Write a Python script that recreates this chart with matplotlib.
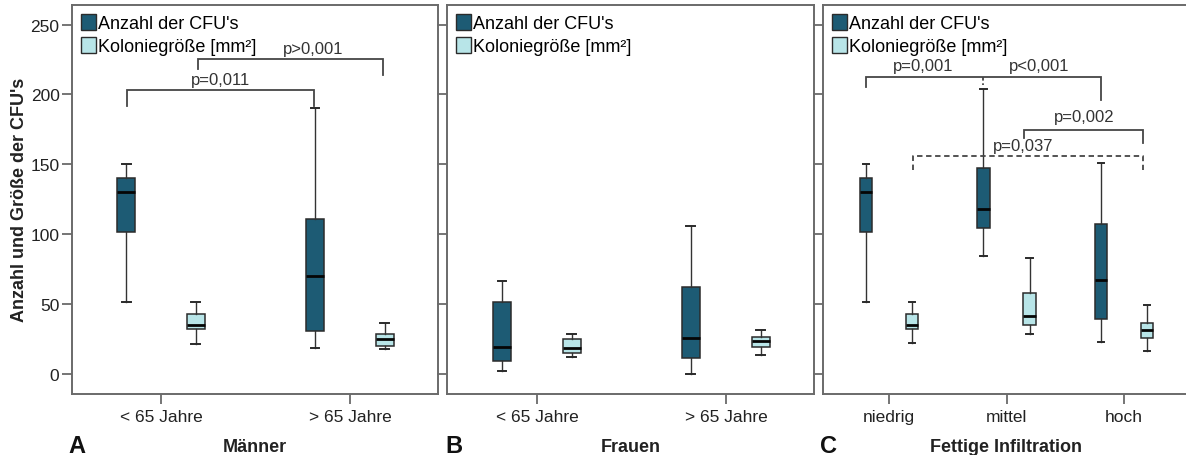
import matplotlib
matplotlib.use("Agg")
import matplotlib.pyplot as plt
from matplotlib.patches import Patch

plt.rcParams["font.family"] = ["Liberation Sans", "DejaVu Sans"]

# Categories
age_groups = ["< 65 Jahre", "> 65 Jahre"]
fat_groups = ["niedrig", "mittel", "hoch"]

# Five-number summaries per group: whisker low, Q1, median, Q3, whisker high
maenner_cfu = [[51, 101.5, 130, 140, 150], [18, 30.5, 70, 111, 190]]
maenner_size = [[21.5, 32, 35, 43, 51], [17.5, 20, 25, 28, 36]]
frauen_cfu = [[1.5, 9, 19, 51, 66], [0, 11, 25.5, 62, 106]]
frauen_size = [[11.5, 15, 18.5, 25, 28.5], [13.5, 19, 23, 26.5, 31]]
fett_cfu = [[51, 101.5, 130, 140, 150], [84, 104, 118, 147, 204], [22.5, 39, 67, 107, 151]]
fett_size = [[22, 32, 35, 43, 51], [28.5, 35, 41, 58, 83], [16, 25.5, 31.5, 36.5, 49]]

series_labels = ["Anzahl der CFU's", "Koloniegröße [mm²]"]
panel_titles = ["Männer", "Frauen", "Fettige Infiltration"]
panel_letters = ["A", "B", "C"]
y_ticks = [0, 50, 100, 150, 200, 250]

DARK = "#1d5b74"
LIGHT = "#b8e5e8"
EDGE = "#2b2b2b"
FRAME = "#6a6a6a"
BRACKET = "#454545"

W, H = 1186, 456
fig = plt.figure(figsize=(W / 100, H / 100), dpi=100)
fig.patch.set_facecolor("white")


def px_axes(left, right, top=6, bottom=394.5):
    return fig.add_axes([left / W, 1 - bottom / H, (right - left) / W, (bottom - top) / H])


axes = [px_axes(72, 438), px_axes(447, 814), px_axes(823, 1190)]
xlims = [(-0.471, 1.466), (-0.476, 1.466), (-0.562, 2.562)]
groups = [age_groups, age_groups, fat_groups]
data = [(maenner_cfu, maenner_size), (frauen_cfu, frauen_size), (fett_cfu, fett_size)]
offsets = [0.185, 0.185, 0.196]
widths = [0.095, 0.095, 0.106]


def stats(rows):
    return [dict(whislo=r[0], q1=r[1], med=r[2], q3=r[3], whishi=r[4], fliers=[]) for r in rows]


for i, ax in enumerate(axes):
    cats = groups[i]
    n = len(cats)
    cfu, size = data[i]
    off, w = offsets[i], widths[i]
    for rows, sign, color in ((cfu, -1, DARK), (size, 1, LIGHT)):
        pos = [k + sign * off for k in range(n)]
        ax.bxp(stats(rows), positions=pos, widths=w, patch_artist=True,
               showfliers=False, capwidths=w * 0.5,
               boxprops=dict(facecolor=color, edgecolor=EDGE, linewidth=1.1),
               medianprops=dict(color="#050505", linewidth=2.0),
               whiskerprops=dict(color="#333333", linewidth=1.0),
               capprops=dict(color="#2a2a2a", linewidth=1.4),
               manage_ticks=False)
    ax.set_xlim(*xlims[i])
    ax.set_ylim(-14.3, 264)
    ax.set_xticks(range(n))
    ax.set_xticklabels(cats, fontsize=12.5, color="#222222")
    ax.set_yticks(y_ticks)
    if i == 0:
        ax.set_yticklabels([str(t) for t in y_ticks], fontsize=12.5, color="#222222")
    else:
        ax.set_yticklabels([])
    ax.tick_params(axis="both", direction="out", length=7, width=1.3, color=FRAME)
    ax.tick_params(axis="x", pad=4)
    ax.tick_params(axis="y", pad=2)
    for sp in ax.spines.values():
        sp.set_color(FRAME)
        sp.set_linewidth(1.4)
    ax.set_xlabel(panel_titles[i], fontsize=13, fontweight="bold", color="#222222",
                  va="center")
    ax.xaxis.set_label_coords(0.5, -(447 - 394.5) / 388.5)
    ax.legend(handles=[Patch(facecolor=DARK, edgecolor=EDGE, linewidth=1.0),
                       Patch(facecolor=LIGHT, edgecolor=EDGE, linewidth=1.0)],
              labels=series_labels, loc="upper left", frameon=False,
              fontsize=13, handlelength=0.85, handleheight=1.0,
              handletextpad=0.1, labelspacing=0.25, borderpad=0.1,
              borderaxespad=0.4)

axes[0].set_ylabel("Anzahl und Größe der CFU's", fontsize=13, fontweight="bold",
                   color="#222222", va="center")
axes[0].yaxis.set_label_coords(-(72 - 20) / 366, 0.5)

for letter, x in zip(panel_letters, [68, 445, 820]):
    fig.text(x / W, 3 / H, letter, fontsize=17, fontweight="bold", color="#111111",
             va="baseline", ha="left")


def bracket(ax, x0, x1, y, y0_end, y1_end, dashed=False):
    ls = (0, (3, 2)) if dashed else "-"
    ax.plot([x0, x0, x1, x1], [y0_end, y, y, y1_end], color=BRACKET, lw=1.3,
            ls=ls, solid_joinstyle="miter", clip_on=False)


def plabel(ax, x, y, s):
    ax.text(x, y, s, fontsize=12, color="#333333", ha="center", va="center")


# Männer
a = axes[0]
bracket(a, -0.18, 0.81, 203, 192, 192)
plabel(a, 0.317, 210.6, "p=0,011")
bracket(a, 0.196, 1.175, 225, 218, 214)
plabel(a, 0.804, 232.8, "p>0,001")

# Fettige Infiltration
c = axes[2]
bracket(c, -0.196, 1.804, 212.5, 205.4, 195.8)
c.plot([0.804, 0.804], [212.5, 207.0], color=BRACKET, lw=1.3, ls=(0, (2, 1.5)))
plabel(c, 0.289, 220.6, "p=0,001")
plabel(c, 1.277, 220.6, "p<0,001")
bracket(c, 1.149, 2.162, 174.3, 169, 165.5)
plabel(c, 1.66, 184.1, "p=0,002")
bracket(c, 0.202, 2.162, 155.9, 145.6, 145.6, dashed=True)
plabel(c, 1.145, 163.5, "p=0,037")

fig.savefig("out.png", dpi=100, facecolor="white")
